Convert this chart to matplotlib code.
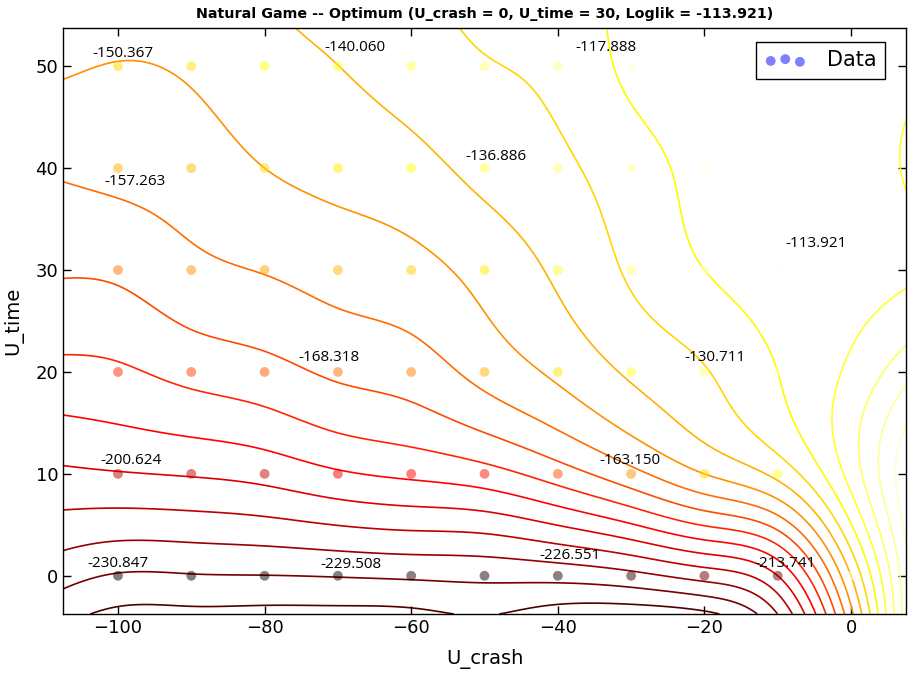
import numpy as np
import matplotlib
matplotlib.use("Agg")
import matplotlib.pyplot as plt

# ---------------- data ----------------
u_crash_nodes = [-110, -100, -90, -80, -70, -60, -50, -40, -30, -20, -10, 0, 10]
u_time_nodes = [-10, 0, 10, 20, 30, 40, 50, 60]
# fitted log-likelihood surface used for the contours, one row per U_time node (bottom to top)
surface_rows = [
    [-252.0, -260.0, -261.0, -263.0, -262.5, -261.5, -254.0, -270.0, -280.0, -282.0, -245.0, -170.0, -45.0],
    [-224.5, -230.847, -230.6, -230.2, -229.508, -228.5, -227.5, -226.551, -223.0, -216.0, -200.0, -140.0, -65.0],
    [-202.2, -200.624, -199.2, -196.6, -191.3, -188.0, -184.0, -175.0, -163.150, -150.0, -137.0, -106.0, -62.0],
    [-182.7, -181.5, -176.9, -173.4, -168.318, -165.1, -156.6, -148.0, -138.5, -130.711, -120.0, -108.0, -88.0],
    [-168.9, -168.1, -162.5, -159.5, -156.0, -153.1, -146.7, -138.3, -128.6, -120.0, -115.5, -113.921, -110.5],
    [-159.2, -157.263, -155.1, -150.0, -146.8, -143.5, -136.886, -132.0, -124.5, -117.0, -115.0, -114.5, -107.0],
    [-148.0, -150.367, -148.5, -143.0, -140.060, -135.0, -130.5, -127.5, -117.888, -115.0, -114.5, -114.5, -111.0],
    [-140.0, -141.0, -141.0, -139.0, -136.0, -131.0, -127.0, -124.0, -118.5, -116.0, -114.5, -114.0, -112.0],
]
data_u_crash = [-100, -90, -80, -70, -60, -50, -40, -30, -20, -10, 0]
data_u_time = [0, 10, 20, 30, 40, 50]
# evaluated log-likelihood at grid points where it differs from the fitted surface
point_loglik = {(-10, 0): -213.741, (0, 0): -116.0, (0, 10): -115.3, (0, 20): -114.6}
contour_levels = list(range(-260, -60, 10))
best_loglik = -113.921

# annotated points: (U_crash, U_time, text, offset_x_px, offset_y_px)
ann_x = [-100, -100, -70, -30, -50, 0, -70, -20, -100, -30, -100, -70, -40, -10]
ann_y = [50, 40, 50, 50, 40, 30, 20, 20, 10, 10, 0, 0, 0, 0]
ann_text = ["-150.367", "-157.263", "-140.060", "-117.888", "-136.886", "-113.921",
            "-168.318", "-130.711", "-200.624", "-163.150", "-230.847", "-229.508",
            "-226.551", "-213.741"]
ann_dx = [5, 17, 17, -25, 11, -35, -9, 11, 13, -1, 0, 13, 12, 7]
ann_dy = [13, -13, 19, 19, 12, 27, 14, 14, 13, 13, 12, 11, 20, 12]


# ---------------- smooth surface (natural cubic spline, tensor product) ----------------
def natural_spline_weights(nodes, xe):
    nodes = np.asarray(nodes, float)
    n = len(nodes)
    h = nodes[1] - nodes[0]
    W = np.zeros((len(xe), n))
    for k in range(n):
        y = np.zeros(n); y[k] = 1.0
        A = np.zeros((n, n)); b = np.zeros(n)
        A[0, 0] = 1; A[-1, -1] = 1
        for i in range(1, n - 1):
            A[i, i - 1] = h; A[i, i] = 4 * h; A[i, i + 1] = h
            b[i] = 6.0 / h * (y[i + 1] - 2 * y[i] + y[i - 1])
        M = np.linalg.solve(A, b)
        idx = np.clip(((xe - nodes[0]) // h).astype(int), 0, n - 2)
        x0 = nodes[idx]; x1 = x0 + h
        W[:, k] = (M[idx] * (x1 - xe) ** 3 / (6 * h) + M[idx + 1] * (xe - x0) ** 3 / (6 * h)
                   + (y[idx] / h - M[idx] * h / 6) * (x1 - xe)
                   + (y[idx + 1] / h - M[idx + 1] * h / 6) * (xe - x0))
    return W


Zs = np.array(surface_rows)
xlim = (-107.5, 7.5)
ylim = (-3.75, 53.75)
xf = np.linspace(xlim[0], xlim[1], 460)
yf = np.linspace(ylim[0], ylim[1], 460)
Zf = natural_spline_weights(u_time_nodes, yf) @ Zs @ natural_spline_weights(u_crash_nodes, xf).T

# point values
ix = [u_crash_nodes.index(v) for v in data_u_crash]
iy = [u_time_nodes.index(v) for v in data_u_time]
vals = Zs[np.ix_(iy, ix)].copy()
for (cx, cy), v in point_loglik.items():
    vals[data_u_time.index(cy), data_u_crash.index(cx)] = v

# ---------------- plot ----------------
fig = plt.figure(figsize=(9.09, 6.75), dpi=100)
ax = fig.add_axes([63 / 909, 61 / 675, 843 / 909, 586 / 675])

ax.contour(xf, yf, Zf, levels=contour_levels, cmap="hot",
           vmin=min(contour_levels), vmax=-70, linewidths=1.2)

XX, YY = np.meshgrid(data_u_crash, data_u_time)
ax.scatter(XX.ravel(), YY.ravel(), c=vals.ravel(), cmap="hot", vmin=vals.min(),
           vmax=best_loglik, alpha=0.5, s=50, edgecolors="none", zorder=3)

for x, y, t, dx, dy in zip(ann_x, ann_y, ann_text, ann_dx, ann_dy):
    ax.annotate(t, (x, y), xytext=(dx * 0.72, dy * 0.72), textcoords="offset points",
                ha="center", va="center", fontsize=11, family="Open Sans", color="black",
                zorder=4)

h = ax.scatter([], [], c="blue", alpha=0.5, s=50, edgecolors="none", label="Data")
leg = ax.legend(handles=[h], loc="upper right", bbox_to_anchor=(0.975, 0.976),
                borderaxespad=0.0, scatterpoints=3, fontsize=15,
                fancybox=False, framealpha=1, handletextpad=1.0)
leg.get_frame().set_edgecolor("black")
leg.get_frame().set_linewidth(1.0)

ax.set_xlim(xlim)
ax.set_ylim(ylim)
ax.set_xticks([-100, -80, -60, -40, -20, 0])
ax.set_yticks([0, 10, 20, 30, 40, 50])
ax.tick_params(direction="in", top=True, right=True, labelsize=13, length=6, width=1)
for s in ax.spines.values():
    s.set_linewidth(1.0)
ax.set_xlabel("U_crash", fontsize=14, labelpad=9)
ax.set_ylabel("U_time", fontsize=14, labelpad=9)
ax.set_title("Natural Game -- Optimum (U_crash = 0, U_time = 30, Loglik = -113.921)",
             fontsize=10.3, fontweight="bold", family="DejaVu Sans", pad=7)

fig.savefig("out.png", dpi=100)
